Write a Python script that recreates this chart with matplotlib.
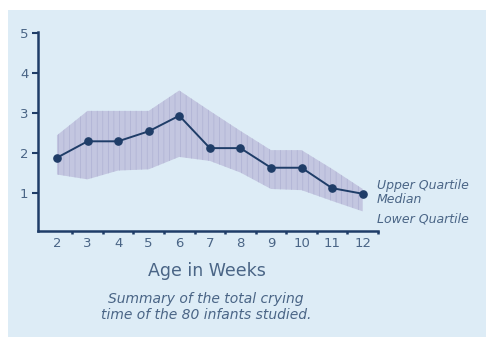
import numpy as np
import matplotlib.pyplot as plt
from matplotlib.patches import Rectangle

# crying time (hours per day) by age, with the inter-quartile band
weeks = [2, 3, 4, 5, 6, 7, 8, 9, 10, 11, 12]
median = [1.88, 2.29, 2.29, 2.54, 2.93, 2.12, 2.12, 1.63, 1.63, 1.12, 0.98]
upper_q = [2.44, 3.05, 3.05, 3.05, 3.56, 3.05, 2.55, 2.07, 2.07, 1.60, 1.10]
lower_q = [1.46, 1.34, 1.56, 1.59, 1.90, 1.80, 1.51, 1.10, 1.07, 0.80, 0.54]
band_labels = ["Upper Quartile", "Median", "Lower Quartile"]

bg = "#ddecf6"
navy = "#1f3d68"
text_col = "#4a6586"

plt.rcParams['font.family'] = ['DejaVu Sans']
plt.rcParams['hatch.linewidth'] = 0.5

W, H = 486, 337
fig = plt.figure(figsize=(W / 100, H / 100), dpi=100, facecolor="white")
fig.patches.append(Rectangle((8 / W, -0.05), 1.1, 1.05 - 10 / H,
                             transform=fig.transFigure, facecolor=bg,
                             edgecolor="none", zorder=-10))

ax = fig.add_axes([38 / W, 1 - 231 / H, 340 / W, 199 / H])
ax.set_facecolor("none")

ax.fill_between(weeks, lower_q, upper_q, facecolor="#c3c6e0",
                edgecolor="#aeb1d3", hatch="|||", linewidth=0, zorder=1)
ax.plot(weeks, median, color=navy, lw=1.4, marker="o", ms=5.2,
        markerfacecolor=navy, markeredgecolor=navy, zorder=3)

ax.set_xlim(1.38, 12.5)
ax.set_ylim(0.05, 5.02)

for s in ["top", "right"]:
    ax.spines[s].set_visible(False)
for s in ["left", "bottom"]:
    ax.spines[s].set_color(navy)
    ax.spines[s].set_linewidth(1.8)

ax.set_yticks([1, 2, 3, 4, 5])
ax.set_xticks(weeks)
ax.set_xticks(np.array(weeks) + 0.5, minor=True)
ax.tick_params(axis="y", length=4, width=1.5, color=navy,
               labelsize=9.5, labelcolor=text_col, pad=3)
ax.tick_params(axis="x", which="major", length=0, labelsize=9.5,
               labelcolor=text_col, pad=4)
ax.tick_params(axis="x", which="minor", length=2, width=1.8, color=navy,
               direction="out")

# band annotations at the right end
for txt, y in zip(band_labels, [185, 200, 219]):
    fig.text(377 / W, 1 - y / H, txt, fontsize=9, style="italic",
             color=text_col, va="center", ha="left")

fig.text(207 / W, 1 - 271 / H, "Age in Weeks", fontsize=12.5,
         color=text_col, ha="center", va="center")
fig.text(206 / W, 1 - 307 / H,
         "Summary of the total crying\ntime of the 80 infants studied.",
         fontsize=10, style="italic", color=text_col, ha="center",
         va="center", linespacing=1.2)

fig.savefig("out.png", dpi=100, facecolor=fig.get_facecolor())
